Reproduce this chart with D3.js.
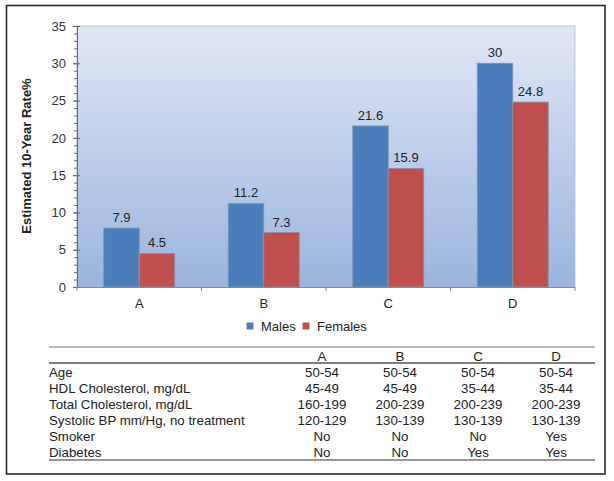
<!DOCTYPE html>
<html><head><meta charset="utf-8">
<script src="https://cdn.jsdelivr.net/npm/d3@7"></script>
<style>
html,body{margin:0;padding:0;background:#fff;}
svg{display:block;font-family:"Liberation Sans",Arial,sans-serif;}
</style></head>
<body>
<svg id="chart" width="614" height="481"></svg>
<script>
const categories = ["A", "B", "C", "D"];
const seriesNames = ["Males", "Females"];
const males = [7.9, 11.2, 21.6, 30];
const females = [4.5, 7.3, 15.9, 24.8];
const yTicks = [0, 5, 10, 15, 20, 25, 30, 35];
const yTitle = "Estimated 10-Year Rate%";

const rowLabels = ["Age", "HDL Cholesterol, mg/dL", "Total Cholesterol, mg/dL",
  "Systolic BP mm/Hg, no treatment", "Smoker", "Diabetes"];
const ageRow = ["50-54", "50-54", "50-54", "50-54"];
const hdlRow = ["45-49", "45-49", "35-44", "35-44"];
const totalCholRow = ["160-199", "200-239", "200-239", "200-239"];
const systolicRow = ["120-129", "130-139", "130-139", "130-139"];
const smokerRow = ["No", "No", "No", "Yes"];
const diabetesRow = ["No", "No", "Yes", "Yes"];

const colors = {Males: "#4a7ebb", Females: "#c0504d"};
const svg = d3.select("#chart");

// outer frame
svg.append("rect").attr("x", 6.5).attr("y", 5.5).attr("width", 598.5).attr("height", 468.5)
  .attr("fill", "none").attr("stroke", "#2a2a2a").attr("stroke-width", 1.6);

const plot = {l: 77, r: 575, t: 26, b: 287};
const x = d3.scaleBand().domain(categories).range([plot.l, plot.r]).paddingInner(0).paddingOuter(0);
const xs = d3.scaleBand().domain(seriesNames).range([0, x.bandwidth()]).paddingInner(0).paddingOuter(0.754);
const y = d3.scaleLinear().domain([0, 35]).range([plot.b, plot.t]);

// gradient background
const defs = svg.append("defs");
const grad = defs.append("linearGradient").attr("id", "bg").attr("x1", 0).attr("y1", 0).attr("x2", 0).attr("y2", 1);
grad.append("stop").attr("offset", "0%").attr("stop-color", "#dfe7f5");
grad.append("stop").attr("offset", "100%").attr("stop-color", "#9bb4dd");
svg.append("rect").attr("x", plot.l).attr("y", plot.t).attr("width", plot.r - plot.l).attr("height", plot.b - plot.t)
  .attr("fill", "url(#bg)").attr("stroke", "#b4bccb").attr("stroke-width", 0.8);

// bars
const data = categories.map((c, i) => ({cat: c, values: [{s: "Males", v: males[i]}, {s: "Females", v: females[i]}]}));
const g = svg.append("g");
const grp = g.selectAll("g.cat").data(data).join("g").attr("class", "cat")
  .attr("transform", d => `translate(${x(d.cat)},0)`);
grp.selectAll("rect").data(d => d.values).join("rect")
  .attr("x", d => xs(d.s)).attr("width", xs.bandwidth())
  .attr("y", d => y(d.v)).attr("height", d => y(0) - y(d.v))
  .attr("fill", d => colors[d.s]).attr("stroke", "#8593a8").attr("stroke-width", 0.8);
grp.selectAll("text").data(d => d.values).join("text")
  .attr("x", d => xs(d.s) + xs.bandwidth() / 2).attr("y", d => y(d.v) - 6)
  .attr("text-anchor", "middle").attr("font-size", 13).attr("fill", "#222")
  .text(d => d.v);

// y axis
const yMinor = svg.append("g").attr("transform", `translate(${plot.l},0)`)
  .call(d3.axisLeft(y).tickValues(d3.range(0, 36, 1)).tickSize(3).tickFormat(""));
yMinor.select(".domain").remove();
yMinor.selectAll("line").attr("stroke", "#666");
const yAxis = svg.append("g").attr("transform", `translate(${plot.l},0)`)
  .call(d3.axisLeft(y).tickValues(yTicks).tickSizeInner(4).tickSizeOuter(0).tickPadding(5));
yAxis.select(".domain").attr("stroke", "#666");
yAxis.selectAll(".tick line").attr("stroke", "#666").attr("x2", 3).attr("x1", -4);
yAxis.selectAll("text").attr("font-size", 13).attr("fill", "#333").attr("font-family", "Liberation Sans, Arial, sans-serif").attr("x", -11);

svg.append("text").attr("transform", "translate(31,156) rotate(-90)")
  .attr("text-anchor", "middle").attr("font-size", 13).attr("font-weight", "bold").attr("fill", "#222")
  .text(yTitle);

// x axis
const xAxis = svg.append("g").attr("transform", `translate(0,${plot.b})`)
  .call(d3.axisBottom(x).tickSize(0).tickPadding(12));
xAxis.select(".domain").attr("stroke", "#8a8a8a");
xAxis.selectAll("text").attr("font-size", 13).attr("fill", "#222").attr("font-family", "Liberation Sans, Arial, sans-serif");
const bounds = categories.map(c => x(c)).concat([x(categories[categories.length - 1]) + x.bandwidth()]);
svg.append("g").selectAll("line").data(bounds).join("line")
  .attr("x1", d => d).attr("x2", d => d).attr("y1", plot.b).attr("y2", plot.b + 4)
  .attr("stroke", "#8a8a8a");

// legend
const legend = svg.append("g");
const legX = [250, 306];
seriesNames.forEach((s, i) => {
  legend.append("rect").attr("x", legX[i] - 3.5).attr("y", 322.5).attr("width", 7).attr("height", 7).attr("fill", colors[s]);
  legend.append("text").attr("x", legX[i] + 11).attr("y", 331).attr("font-size", 13).attr("fill", "#222").text(s);
});

// table
const table = svg.append("g");
const tLeft = 49, tRight = 595;
const colX = d3.scalePoint().domain(categories).range([322, 556]);
table.append("line").attr("x1", tLeft).attr("x2", tRight).attr("y1", 347).attr("y2", 347).attr("stroke", "#a0a0a0").attr("stroke-width", 1.3);
table.append("line").attr("x1", tLeft).attr("x2", tRight).attr("y1", 363).attr("y2", 363).attr("stroke", "#555").attr("stroke-width", 1.3);
table.append("line").attr("x1", tLeft).attr("x2", tRight).attr("y1", 460).attr("y2", 460).attr("stroke", "#777").attr("stroke-width", 1.3);
table.selectAll("text.hdr").data(categories).join("text").attr("class", "hdr")
  .attr("x", d => colX(d)).attr("y", 360.5).attr("text-anchor", "middle")
  .attr("font-size", 13.3).attr("fill", "#222").text(d => d);
const rows = [ageRow, hdlRow, totalCholRow, systolicRow, smokerRow, diabetesRow];
rows.forEach((row, ri) => {
  const yy = 377 + ri * 16;
  table.append("text").attr("x", tLeft).attr("y", yy).attr("font-size", 13.3).attr("fill", "#222").text(rowLabels[ri]);
  table.selectAll(null).data(row).join("text")
    .attr("x", (d, i) => colX(categories[i])).attr("y", yy).attr("text-anchor", "middle")
    .attr("font-size", 13.3).attr("fill", "#222").text(d => d);
});
</script>
</body></html>
